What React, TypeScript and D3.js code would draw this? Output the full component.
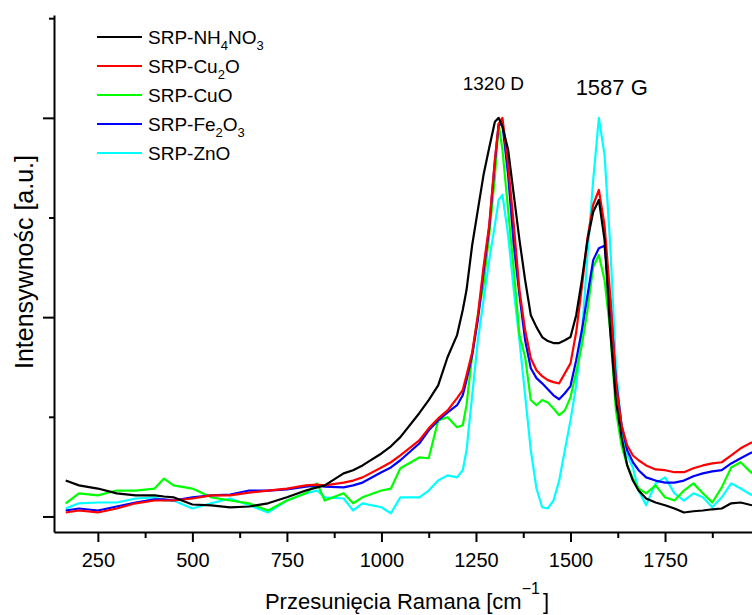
import { useEffect, useRef } from "react";
import * as d3 from "d3";

// Raman shift axis (cm^-1), shared by all spectra
const wavenumbers = [
  165, 200, 250, 300, 350, 400, 425, 450, 500, 550,
  600, 650, 700, 750, 800, 830, 850, 900, 925, 950,
  1000, 1025, 1050, 1100, 1125, 1150, 1175, 1200, 1215, 1225,
  1240, 1255, 1270, 1285, 1300, 1310, 1320, 1335, 1350, 1365,
  1380, 1395, 1410, 1425, 1440, 1455, 1470, 1485, 1500, 1515,
  1530, 1545, 1560, 1575, 1590, 1605, 1620, 1635, 1650, 1665,
  1680, 1700, 1725, 1750, 1775, 1800, 1825, 1850, 1875, 1900,
  1925, 1950, 1980,
];

// intensities (a.u., D peak max = 1000)
const srpNH4NO3 = [
  90, 78, 70, 58, 53, 53, 50, 48, 30, 28,
  23, 25, 33, 48, 65, 73, 78, 108, 116, 128,
  158, 176, 199, 259, 292, 329, 400, 455, 518, 568,
  681, 769, 857, 925, 990, 1000, 978, 920, 807, 694,
  593, 505, 475, 450, 440, 435, 435, 442, 450, 505,
  593, 694, 764, 794, 694, 467, 292, 199, 128, 90,
  65, 45, 35, 28, 20, 10, 13, 15, 18, 20,
  33, 35, 28,
];
const srpCu2O = [
  10, 15, 10, 20, 33, 40, 40, 40, 45, 53,
  53, 60, 65, 70, 78, 80, 78, 85, 90, 98,
  123, 136, 153, 191, 221, 246, 266, 297, 317, 354,
  412, 505, 626, 731, 895, 985, 1000, 882, 731, 568,
  467, 397, 367, 352, 342, 337, 334, 359, 384, 462,
  575, 699, 782, 819, 731, 555, 334, 229, 178, 153,
  141, 128, 118, 116, 111, 111, 121, 128, 133, 136,
  153, 171, 186,
];
const srpCuO = [
  33, 58, 53, 65, 65, 70, 95, 78, 70, 48,
  40, 33, 15, 40, 58, 83, 40, 58, 33, 48,
  65, 70, 121, 148, 146, 241, 249, 224, 229, 279,
  405, 505, 581, 706, 852, 985, 920, 769, 618, 455,
  400, 292, 279, 292, 286, 271, 254, 266, 299, 362,
  430, 518, 626, 656, 593, 467, 266, 178, 128, 95,
  70, 58, 78, 48, 40, 65, 83, 58, 35, 73,
  123, 136, 108,
];
const srpFe2O3 = [
  15, 20, 15, 25, 35, 43, 43, 40, 48, 53,
  55, 65, 65, 68, 75, 78, 75, 73, 78, 85,
  111, 123, 141, 183, 216, 241, 261, 279, 304, 342,
  405, 493, 613, 724, 890, 983, 983, 857, 681, 555,
  442, 372, 347, 334, 319, 304, 294, 309, 327, 392,
  467, 555, 643, 673, 679, 543, 342, 229, 166, 136,
  116, 98, 90, 85, 85, 90, 101, 108, 113, 116,
  133, 146, 161,
];
const srpZnO = [
  20, 33, 35, 35, 45, 48, 40, 40, 20, 33,
  45, 28, 10, 40, 58, 65, 48, 45, 15, 33,
  23, 8, 48, 48, 65, 90, 103, 98, 116, 166,
  304, 442, 543, 643, 731, 794, 807, 706, 568, 442,
  304, 166, 70, 23, 20, 40, 90, 166, 241, 329,
  455, 656, 844, 1000, 907, 681, 379, 216, 153, 123,
  65, 28, 83, 98, 58, 40, 58, 48, 23, 48,
  83, 70, 53,
];

// legend labels: [text, isSubscript]
const legendLabels = [
  [["SRP-NH", false], ["4", true], ["NO", false], ["3", true]],
  [["SRP-Cu", false], ["2", true], ["O", false]],
  [["SRP-CuO", false]],
  [["SRP-Fe", false], ["2", true], ["O", false], ["3", true]],
  [["SRP-ZnO", false]],
];
const legendColors = ["#000000", "#ff0000", "#00ff00", "#0000ff", "#00ffff"];
const legendValues = [srpNH4NO3, srpCu2O, srpCuO, srpFe2O3, srpZnO];

// draw order: cyan at the bottom, black on top
const drawOrder = [4, 2, 3, 1, 0];

const xMajorTicks = [250, 500, 750, 1000, 1250, 1500, 1750];
const xMinorTicks = [375, 625, 875, 1125, 1375, 1625, 1875];
const yMajorTicks = [0, 500, 1000];
const yMinorTicks = [250, 750, 1250];

const FONT = "'Liberation Sans', Arial, sans-serif";

export default function App() {
  const svgRef = useRef(null);
  const width = 752;
  const height = 615;

  useEffect(() => {
    document.body.style.margin = "0";

    const left = 54;
    const right = 752;
    const top = 15;
    const bottom = 532;

    const x = d3.scaleLinear().domain([134, 1980]).range([left, right]);
    const y = d3.scaleLinear().domain([-39, 1258]).range([bottom, top]);

    const svg = d3.select(svgRef.current);
    svg.selectAll("*").remove();

    svg
      .append("defs")
      .append("clipPath")
      .attr("id", "plot-clip")
      .append("rect")
      .attr("x", left)
      .attr("y", top)
      .attr("width", right - left)
      .attr("height", bottom - top);

    // spectra
    const line = d3
      .line()
      .x((d) => x(d[0]))
      .y((d) => y(d[1]));

    const lines = svg.append("g").attr("clip-path", "url(#plot-clip)");
    drawOrder.forEach((i) => {
      const pts = wavenumbers.map((w, k) => [w, legendValues[i][k]]);
      lines
        .append("path")
        .datum(pts)
        .attr("d", line)
        .attr("fill", "none")
        .attr("stroke", legendColors[i])
        .attr("stroke-width", 2.2)
        .attr("stroke-linejoin", "round");
    });

    // X axis
    const xAxis = svg
      .append("g")
      .attr("transform", `translate(0,${bottom})`)
      .call(
        d3
          .axisBottom(x)
          .tickValues(xMajorTicks)
          .tickSize(10)
          .tickSizeOuter(0)
          .tickFormat(d3.format("d"))
      );
    xAxis.select(".domain").attr("stroke-width", 2);
    xAxis.selectAll(".tick line").attr("stroke-width", 2);
    xAxis
      .selectAll(".tick text")
      .attr("y", 35)
      .attr("dy", 0)
      .style("font-family", FONT)
      .style("font-size", "20px")
      .attr("fill", "#000");

    const xMinor = svg
      .append("g")
      .attr("transform", `translate(0,${bottom})`)
      .call(d3.axisBottom(x).tickValues(xMinorTicks).tickSize(6).tickFormat(() => ""));
    xMinor.select(".domain").remove();
    xMinor.selectAll(".tick line").attr("stroke-width", 2);

    // Y axis (no labels)
    const yAxis = svg
      .append("g")
      .attr("transform", `translate(${left},0)`)
      .call(
        d3.axisLeft(y).tickValues(yMajorTicks).tickSize(11).tickSizeOuter(0).tickFormat(() => "")
      );
    yAxis.select(".domain").attr("stroke-width", 2);
    yAxis.selectAll(".tick line").attr("stroke-width", 2);

    const yMinor = svg
      .append("g")
      .attr("transform", `translate(${left},0)`)
      .call(d3.axisLeft(y).tickValues(yMinorTicks).tickSize(5).tickFormat(() => ""));
    yMinor.select(".domain").remove();
    yMinor.selectAll(".tick line").attr("stroke-width", 2);

    // axis titles
    const xTitle = svg
      .append("text")
      .attr("x", 407)
      .attr("y", 609)
      .attr("text-anchor", "middle")
      .style("font-family", FONT)
      .style("font-size", "22px")
      .attr("fill", "#000");
    xTitle.append("tspan").text("Przesunięcia Ramana [cm");
    xTitle.append("tspan").attr("dy", -15).style("font-size", "16px").text("\u22121");
    xTitle.append("tspan").attr("dy", 15).attr("dx", 3).text("]");

    svg
      .append("text")
      .attr("transform", "rotate(-90)")
      .attr("x", -262)
      .attr("y", 33)
      .attr("text-anchor", "middle")
      .style("font-family", FONT)
      .style("font-size", "25px")
      .attr("fill", "#000")
      .text("Intensywnośc [a.u.]");

    // peak annotations
    svg
      .append("text")
      .attr("x", x(1296))
      .attr("y", 90)
      .attr("text-anchor", "middle")
      .style("font-family", FONT)
      .style("font-size", "19px")
      .text("1320 D");
    svg
      .append("text")
      .attr("x", x(1609))
      .attr("y", 95)
      .attr("text-anchor", "middle")
      .style("font-family", FONT)
      .style("font-size", "22px")
      .text("1587 G");

    // legend
    const legend = svg.append("g").attr("transform", "translate(97,37)");
    legendLabels.forEach((parts, i) => {
      const row = legend.append("g").attr("transform", `translate(0,${i * 29})`);
      row
        .append("line")
        .attr("x1", 0)
        .attr("x2", 45)
        .attr("y1", 0)
        .attr("y2", 0)
        .attr("stroke", legendColors[i])
        .attr("stroke-width", 2);
      const t = row
        .append("text")
        .attr("x", 51)
        .attr("y", 7)
        .style("font-family", FONT)
        .style("font-size", "19px")
        .attr("fill", "#000");
      let sub = false;
      parts.forEach(([txt, isSub]) => {
        const s = t.append("tspan").text(txt);
        if (isSub && !sub) {
          s.attr("dy", 6).style("font-size", "13px");
        } else if (!isSub && sub) {
          s.attr("dy", -6);
        } else if (isSub) {
          s.style("font-size", "13px");
        }
        sub = isSub;
      });
    });
  }, []);

  return <svg ref={svgRef} width={width} height={height} style={{ display: "block" }}></svg>;
}
